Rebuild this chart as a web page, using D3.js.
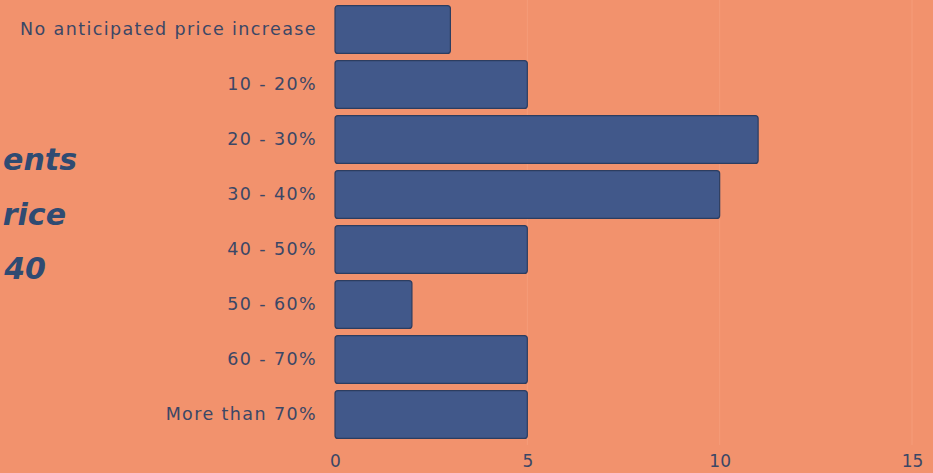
<!DOCTYPE html>
<html>
<head>
<meta charset="utf-8">
<script src="https://cdn.jsdelivr.net/npm/d3@7"></script>
<style>
  html, body { margin: 0; padding: 0; background: #f2926d; }
  svg { display: block; }
</style>
</head>
<body>
<div id="chart"></div>
<script>
const categories = [
  "No anticipated price increase",
  "10 - 20%",
  "20 - 30%",
  "30 - 40%",
  "40 - 50%",
  "50 - 60%",
  "60 - 70%",
  "More than 70%"
];
const counts = [3, 5, 11, 10, 5, 2, 5, 5];
const xTicks = [0, 5, 10, 15];
// clipped title fragments at the left edge
const titleBits = ["ents", "rice", "40"];

const width = 933, height = 473;
const font = "'DejaVu Sans', Verdana, sans-serif";

const svg = d3.select("#chart")
  .append("svg")
  .attr("width", width)
  .attr("height", height);

svg.append("rect")
  .attr("width", width)
  .attr("height", height)
  .attr("fill", "#f2926d");

const x = d3.scaleLinear().domain([0, 15]).range([335, 912]);
const y = d3.scaleBand()
  .domain(categories)
  .range([2, 442])
  .paddingInner(0.13)
  .paddingOuter(0.065);

// faint grid lines
svg.append("g")
  .selectAll("line")
  .data(xTicks.slice(1))
  .join("line")
  .attr("x1", d => x(d))
  .attr("x2", d => x(d))
  .attr("y1", 0)
  .attr("y2", 445)
  .attr("stroke", "#f59c7a")
  .attr("stroke-width", 1);

// bars
svg.append("g")
  .selectAll("rect")
  .data(counts)
  .join("rect")
  .attr("x", x(0))
  .attr("y", (d, i) => y(categories[i]))
  .attr("width", d => x(d) - x(0))
  .attr("height", y.bandwidth())
  .attr("rx", 3)
  .attr("fill", "#41588a")
  .attr("stroke", "#2c3d60")
  .attr("stroke-width", 1.2);

// y axis labels
const yAxis = svg.append("g")
  .attr("transform", `translate(${x(0) - 18},0)`)
  .call(d3.axisLeft(y).tickSize(0).tickPadding(0));
yAxis.select(".domain").remove();
yAxis.selectAll("text")
  .attr("font-family", font)
  .attr("font-size", 17.5)
  .attr("letter-spacing", 1.4)
  .attr("fill", "#3b4766");

// x axis labels
const xAxis = svg.append("g")
  .attr("transform", "translate(0,453)")
  .call(d3.axisBottom(x).tickValues(xTicks).tickSize(0).tickPadding(0));
xAxis.select(".domain").remove();
xAxis.selectAll("text")
  .attr("dy", "0.8em")
  .attr("font-family", font)
  .attr("font-size", 17)
  .attr("fill", "#3b4766");

// title fragments
svg.append("g")
  .selectAll("text")
  .data(titleBits)
  .join("text")
  .attr("x", (d, i) => [77, 66, 46][i])
  .attr("y", (d, i) => 170 + i * 54.5)
  .attr("text-anchor", "end")
  .attr("font-family", font)
  .attr("font-size", 30)
  .attr("font-weight", "bold")
  .attr("font-style", "italic")
  .attr("fill", "#2f4b72")
  .text(d => d);
</script>
</body>
</html>
